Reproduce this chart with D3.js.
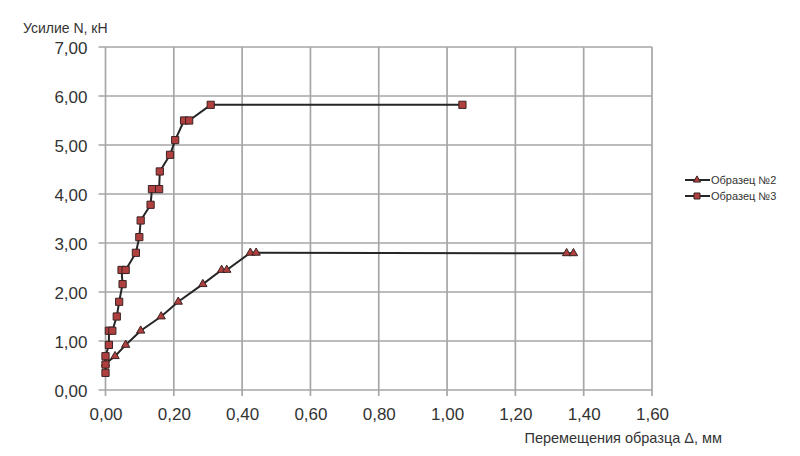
<!DOCTYPE html>
<html><head><meta charset="utf-8">
<script src="https://cdn.jsdelivr.net/npm/d3@7"></script>
<style>
body{margin:0;background:#fff;}
text{font-family:"Liberation Sans Narrow","Arial Narrow","Liberation Sans",Arial,sans-serif;fill:#333;}
</style></head>
<body><svg id="c" width="800" height="456"></svg>
<script>
const xTicks = [0,0.2,0.4,0.6,0.8,1.0,1.2,1.4,1.6];
const yTicks = [0,1,2,3,4,5,6,7];
const seriesNames = ["Образец №2","Образец №3"];
const s2x = [0.0,0.028,0.059,0.103,0.163,0.213,0.285,0.34,0.355,0.424,0.441,1.35,1.37];
const s2y = [0.54,0.69,0.92,1.21,1.50,1.80,2.16,2.45,2.45,2.80,2.80,2.79,2.79];
const s3x = [0.0,0.0,0.0,0.01,0.01,0.02,0.033,0.04,0.05,0.047,0.059,0.089,0.099,0.103,0.132,0.136,0.157,0.159,0.189,0.204,0.23,0.245,0.308,1.045];
const s3y = [0.35,0.52,0.69,0.92,1.21,1.21,1.50,1.80,2.16,2.45,2.45,2.80,3.12,3.46,3.78,4.10,4.10,4.46,4.80,5.10,5.50,5.50,5.82,5.82];

const svg = d3.select("#c");
const x = d3.scaleLinear().domain([0,1.6]).range([105.5,652]);
const y = d3.scaleLinear().domain([0,7]).range([390,47]);
const fmt = v => v.toFixed(2).replace(".", ",");
const grid = "#a6a6a6";
const ff = '"Liberation Sans Narrow","Arial Narrow","Liberation Sans",Arial,sans-serif';

// grid
svg.append("g").selectAll("line").data(xTicks).join("line")
  .attr("x1", d=>x(d)).attr("x2", d=>x(d)).attr("y1", y(7)).attr("y2", y(0)+6)
  .attr("stroke", grid).attr("stroke-width", 1.7);
svg.append("g").selectAll("line").data(yTicks).join("line")
  .attr("x1", x(0)-7).attr("x2", x(1.6)).attr("y1", d=>y(d)).attr("y2", d=>y(d))
  .attr("stroke", grid).attr("stroke-width", 1.7);

const xa = svg.append("g").attr("transform", `translate(0,${y(0)})`)
  .call(d3.axisBottom(x).tickValues(xTicks).tickFormat(fmt).tickSize(0).tickPadding(18));
xa.select(".domain").remove();
xa.selectAll("text").attr("font-size", 17).attr("fill", "#333").style("font-family", ff);
const ya = svg.append("g").attr("transform", `translate(${x(0)},0)`)
  .call(d3.axisLeft(y).tickValues(yTicks).tickFormat(fmt).tickSize(0).tickPadding(18));
ya.select(".domain").remove();
ya.selectAll("text").attr("font-size", 17).attr("fill", "#333").attr("dy", "0.4em").style("font-family", ff);

svg.append("text").attr("x", 23).attr("y", 33).attr("font-size", 14).text("Усилие N, кН");
svg.append("text").attr("x", 722).attr("y", 443).attr("text-anchor", "end").attr("font-size", 14.5).text("Перемещения образца Δ, мм");

const line = d3.line().x(d=>x(d[0])).y(d=>y(d[1]));
const d2 = s2x.map((v,i)=>[v,s2y[i]]);
const d3pts = s3x.map((v,i)=>[v,s3y[i]]);
const fill = "#b0403f", stroke = "#3a2222";

svg.append("path").datum(d2).attr("d", line).attr("fill","none").attr("stroke","#262626").attr("stroke-width",2);
svg.append("path").datum(d3pts).attr("d", line).attr("fill","none").attr("stroke","#262626").attr("stroke-width",2).attr("stroke-linejoin","round");

const tri = d3.symbol().type(d3.symbolTriangle).size(30);
const sq = d3.symbol().type(d3.symbolSquare).size(52);
svg.append("g").selectAll("path").data(d2).join("path")
  .attr("transform", d=>`translate(${x(d[0])},${y(d[1])})`).attr("d", tri)
  .attr("fill", fill).attr("stroke", stroke).attr("stroke-width", 1);
svg.append("g").selectAll("path").data(d3pts).join("path")
  .attr("transform", d=>`translate(${x(d[0])},${y(d[1])})`).attr("d", sq)
  .attr("fill", fill).attr("stroke", stroke).attr("stroke-width", 1);

const lg = svg.append("g");
seriesNames.forEach((n,i)=>{
  const yy = 180 + i*16;
  lg.append("line").attr("x1",685).attr("x2",710).attr("y1",yy).attr("y2",yy).attr("stroke","#262626").attr("stroke-width",2);
  lg.append("path").attr("transform",`translate(697,${yy})`).attr("d", i===0?d3.symbol().type(d3.symbolTriangle).size(22):d3.symbol().type(d3.symbolSquare).size(36))
    .attr("fill",fill).attr("stroke",stroke).attr("stroke-width",1);
  lg.append("text").attr("x",711).attr("y",yy+4).attr("font-size",11).text(n);
});
</script></body></html>
